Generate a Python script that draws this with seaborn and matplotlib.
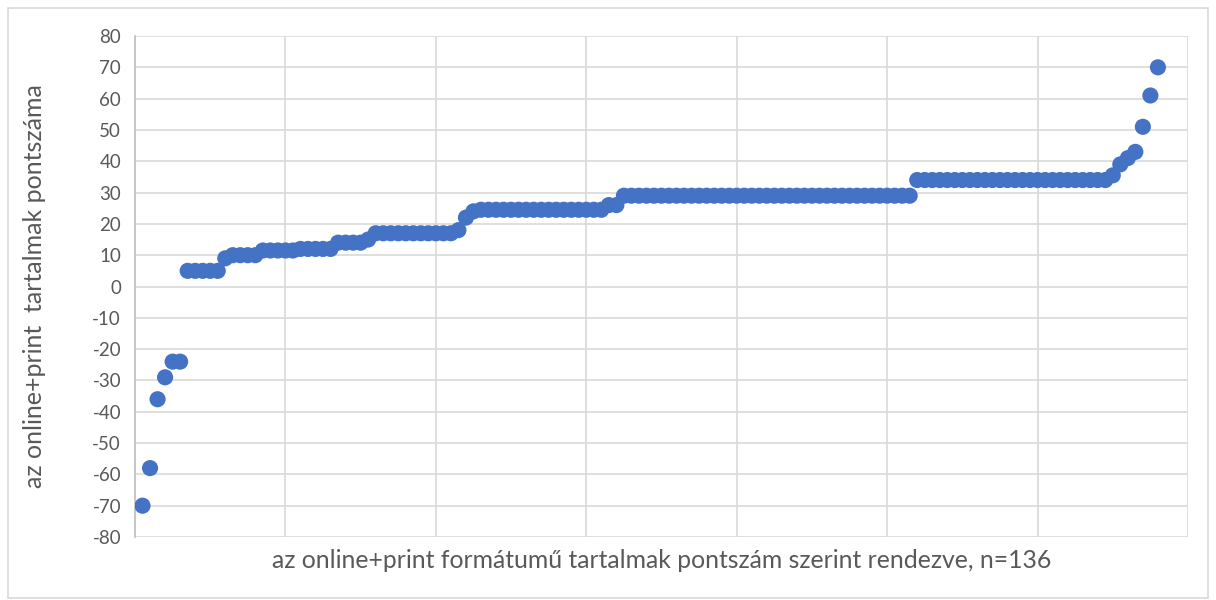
import numpy as np
import pandas as pd
import matplotlib
matplotlib.use("Agg")
import matplotlib.pyplot as plt
import seaborn as sns

# pontszámok sorba rendezve (n=136)
low_tail = [-70, -58, -36, -29, -24, -24]
step_5 = [5] * 5
step_10 = [9] + [10] * 4
step_12 = [11.5] * 5 + [12] * 5
step_14 = [14] * 4 + [15]
step_17 = [17] * 11 + [18]
step_24 = [22, 24] + [24.5] * 17 + [26, 26]
step_29 = [29] * 39
step_34 = [34] * 26
high_tail = [35.5, 39, 41, 43, 51, 61, 70]

scores = (low_tail + step_5 + step_10 + step_12 + step_14 + step_17
          + step_24 + step_29 + step_34 + high_tail)
rank = list(range(1, len(scores) + 1))

y_ticks = list(range(-80, 81, 10))
x_ticks = list(range(0, 141, 20))

ylabel = "az online+print  tartalmak pontszáma"
xlabel = "az online+print formátumű tartalmak pontszám szerint rendezve, n=136"

df = pd.DataFrame({"rank": rank, "score": scores})

sns.set_style("white")
plt.rcParams["font.family"] = ["Lato", "DejaVu Sans"]
plt.rcParams["axes.unicode_minus"] = False

fig = plt.figure(figsize=(12.16, 6), dpi=100)
ax = fig.add_axes([135 / 1216, 1 - 537 / 600, (1188 - 135) / 1216, (537 - 36) / 600])

sns.scatterplot(data=df, x="rank", y="score", ax=ax, color="#4472C4",
                s=135, edgecolor="none", zorder=3, legend=False)

ax.set_xlim(0, 140)
ax.set_ylim(-80, 80)
ax.set_yticks(y_ticks)
ax.set_xticks(x_ticks)
ax.grid(True, color="#D9D9D9", linewidth=1.2, zorder=0)
ax.set_axisbelow(True)

for s in ["top", "right", "bottom"]:
    ax.spines[s].set_visible(False)
ax.spines["left"].set_color("#BFBFBF")
ax.spines["left"].set_linewidth(1.2)

ax.tick_params(axis="y", colors="#BFBFBF", labelcolor="#595959", labelsize=13.5,
               length=6, width=1.2, direction="out", pad=4)
ax.tick_params(axis="x", bottom=False, labelbottom=False)

ax.set_ylabel(ylabel, fontsize=18, color="#595959", va="center")
ax.yaxis.set_label_coords(-0.095, 0.5)
ax.set_xlabel(xlabel, fontsize=17.8, color="#595959", va="center")
ax.xaxis.set_label_coords(0.5, -0.046)

# keret a diagram körül
fig.patches.append(plt.Rectangle((8 / 1216, 0.003), 1 - 16 / 1216, 1 - 8 / 600 - 0.003,
                                 transform=fig.transFigure, fill=False,
                                 edgecolor="#D9D9D9", linewidth=1.2))

fig.savefig("out.png", dpi=100)
